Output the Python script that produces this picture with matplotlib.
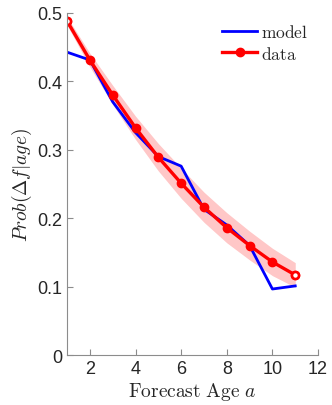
import numpy as np
import matplotlib.pyplot as plt

plt.rcParams['mathtext.fontset'] = 'cm'
plt.rcParams['font.family'] = ['Liberation Sans', 'DejaVu Sans']

# forecast ages
age = [1, 2, 3, 4, 5, 6, 7, 8, 9, 10, 11]
# model curve
model = [0.4425, 0.431, 0.370, 0.325, 0.290, 0.276, 0.213, 0.190, 0.160, 0.0965, 0.101]
# data curve and its band half-width
data = [0.488, 0.431, 0.380, 0.332, 0.289, 0.251, 0.216, 0.186, 0.160, 0.136, 0.117]
band = [0.006, 0.010, 0.014, 0.017, 0.020, 0.022, 0.022, 0.022, 0.021, 0.020, 0.018]

xticks = [2, 4, 6, 8, 10, 12]
yticks = [0, 0.1, 0.2, 0.3, 0.4, 0.5]

d = np.array(data)
b = np.array(band)

fig = plt.figure(figsize=(3.32, 4.06), dpi=100)
ax = fig.add_axes([0.202, 0.123, 0.756, 0.843])

ax.fill_between(age, d - b, d + b, color='#ff9999', alpha=0.55, lw=0)
ax.plot(age, model, color='#0000ff', lw=2.0, label=r'$\mathrm{model}$')
ax.plot(age, data, color='#ff0000', lw=2.4, marker='o', ms=6, label=r'$\mathrm{data}$')
# hollow end markers
ax.plot([age[0], age[-1]], [data[0], data[-1]], ls='none', marker='o', ms=5,
        mfc='white', mec='#ff0000', mew=1.8)

ax.set_xlim(1, 12)
ax.set_ylim(0, 0.5)
ax.set_xticks(xticks)
ax.set_yticks(yticks)
ax.set_yticklabels(['0', '0.1', '0.2', '0.3', '0.4', '0.5'])
for s in ['top', 'right']:
    ax.spines[s].set_visible(False)
for s in ['left', 'bottom']:
    ax.spines[s].set_color('#8c8c8c')
ax.tick_params(direction='in', length=4, color='#8c8c8c', labelsize=13,
               labelcolor='#262626')

ax.set_xlabel(r'$\mathrm{Forecast\ Age}\ a$', fontsize=14, color='#262626', labelpad=2)
ax.set_ylabel(r'$Prob(\Delta f|age)$', fontsize=14, color='#262626', labelpad=2)

leg = ax.legend(loc='upper right', frameon=False, handlelength=2.0,
                handletextpad=0.2, borderaxespad=0.2, labelspacing=0.25,
                fontsize=12.5)
for t in leg.get_texts():
    t.set_color('#262626')

fig.savefig('out.png', dpi=100)
